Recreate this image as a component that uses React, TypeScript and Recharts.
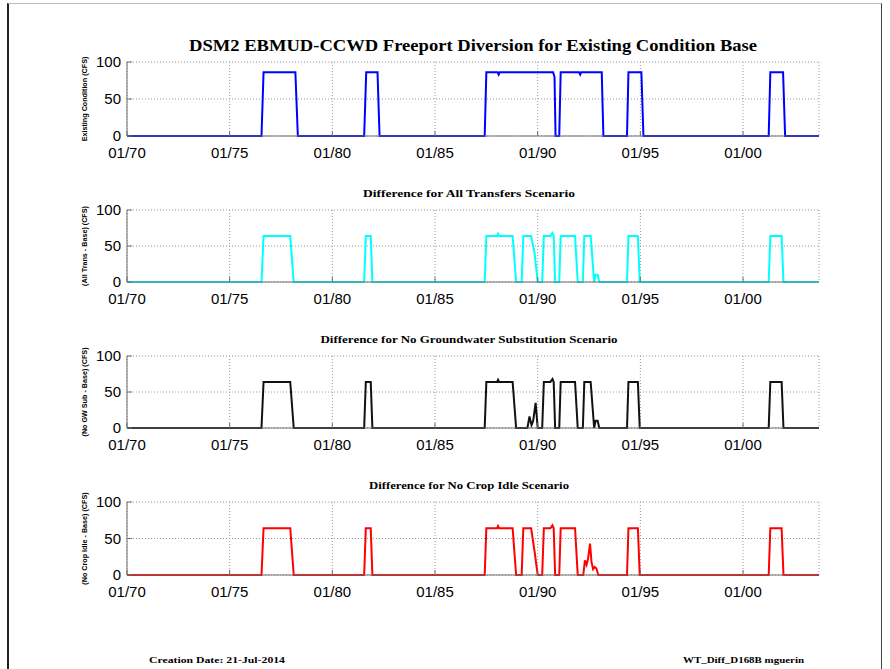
import { LineChart, Line, XAxis, YAxis, CartesianGrid } from 'recharts';

// x is decimal year, y is CFS
const YEAR_TICKS = [1970, 1975, 1980, 1985, 1990, 1995, 2000];
const VALUE_TICKS = [0, 50, 100];
const YEAR_DOMAIN: [number, number] = [1970, 2003.7];

const existingBase: [number, number][] = [
  [1970, 0], [1976.55, 0], [1976.65, 86], [1978.2, 86], [1978.32, 0],
  [1981.55, 0], [1981.65, 86], [1982.2, 86], [1982.3, 0],
  [1987.42, 0], [1987.5, 86], [1988.05, 86], [1988.1, 83], [1988.15, 86],
  [1990.75, 86], [1990.82, 80], [1990.87, 0], [1991.05, 0], [1991.12, 86],
  [1992.02, 86], [1992.07, 83], [1992.12, 86], [1993.12, 86], [1993.2, 0],
  [1994.35, 0], [1994.42, 86], [1995.05, 86], [1995.15, 0],
  [2001.25, 0], [2001.33, 86], [2001.95, 86], [2002.05, 0], [2003.7, 0],
];

const allTransfersDiff: [number, number][] = [
  [1970, 0], [1976.55, 0], [1976.65, 64], [1977.95, 64], [1978.12, 0],
  [1981.55, 0], [1981.63, 64], [1981.87, 64], [1981.95, 0],
  [1987.42, 0], [1987.5, 64], [1988.02, 64], [1988.07, 67], [1988.12, 64],
  [1988.78, 64], [1988.95, 0], [1989.22, 0], [1989.3, 64], [1989.68, 64],
  [1989.85, 40], [1990.0, 0], [1990.22, 0], [1990.3, 64], [1990.62, 64],
  [1990.72, 68], [1990.78, 64], [1990.85, 0], [1991.05, 0], [1991.12, 64],
  [1991.82, 64], [1991.95, 0], [1992.2, 0], [1992.27, 64], [1992.58, 64],
  [1992.75, 0], [1992.82, 10], [1992.92, 10], [1993.0, 0],
  [1994.35, 0], [1994.42, 64], [1994.88, 64], [1994.97, 0],
  [2001.25, 0], [2001.33, 64], [2001.88, 64], [2001.97, 0], [2003.7, 0],
];

const noGwSubDiff: [number, number][] = [
  [1970, 0], [1976.55, 0], [1976.65, 64], [1977.95, 64], [1978.12, 0],
  [1981.55, 0], [1981.63, 64], [1981.87, 64], [1981.95, 0],
  [1987.42, 0], [1987.5, 64], [1988.02, 64], [1988.07, 67], [1988.12, 64],
  [1988.78, 64], [1988.95, 0], [1989.5, 0], [1989.6, 16], [1989.7, 4],
  [1989.78, 10], [1989.9, 35], [1990.0, 0], [1990.22, 0], [1990.3, 64],
  [1990.62, 64], [1990.72, 68], [1990.78, 64], [1990.85, 0], [1991.05, 0],
  [1991.12, 64], [1991.82, 64], [1991.95, 0], [1992.2, 0], [1992.27, 64],
  [1992.58, 64], [1992.75, 0], [1992.82, 10], [1992.92, 10], [1993.0, 0],
  [1994.35, 0], [1994.42, 64], [1994.88, 64], [1994.97, 0],
  [2001.25, 0], [2001.33, 64], [2001.88, 64], [2001.97, 0], [2003.7, 0],
];

const noCropIdleDiff: [number, number][] = [
  [1970, 0], [1976.55, 0], [1976.65, 64], [1977.95, 64], [1978.12, 0],
  [1981.55, 0], [1981.63, 64], [1981.87, 64], [1981.95, 0],
  [1987.42, 0], [1987.5, 64], [1988.02, 64], [1988.07, 67], [1988.12, 64],
  [1988.78, 64], [1988.95, 0], [1989.22, 0], [1989.3, 64], [1989.68, 64],
  [1989.85, 32], [1990.0, 0], [1990.22, 0], [1990.3, 64], [1990.62, 64],
  [1990.72, 68], [1990.78, 64], [1990.85, 0], [1991.05, 0], [1991.12, 64],
  [1991.82, 64], [1991.95, 0], [1992.22, 0], [1992.3, 20], [1992.38, 14],
  [1992.45, 22], [1992.55, 43], [1992.62, 18], [1992.7, 8], [1992.78, 11],
  [1992.86, 9], [1992.95, 0],
  [1994.35, 0], [1994.42, 64], [1994.88, 64], [1994.97, 0],
  [2001.25, 0], [2001.33, 64], [2001.88, 64], [2001.97, 0], [2003.7, 0],
];

const PANELS = [
  { top: 62, h: 74, color: '#0000ff', series: existingBase, yLabel: 'Existing Condition (CFS)', title: '' },
  { top: 210, h: 72, color: '#00ffff', series: allTransfersDiff, yLabel: '(All Trans  -  Base) (CFS)', title: 'Difference for All Transfers Scenario' },
  { top: 356, h: 72, color: '#111111', series: noGwSubDiff, yLabel: '(No GW Sub  -  Base) (CFS)', title: 'Difference for No Groundwater Substitution Scenario' },
  { top: 502, h: 73, color: '#ff0000', series: noCropIdleDiff, yLabel: '(No Crop Idle  -  Base) (CFS)', title: 'Difference for No Crop Idle Scenario' },
];
const SUBTITLE_WIDTHS = [0, 212, 297, 200];

const PLOT_LEFT = 127;
const PLOT_RIGHT = 819;
const TOP_PAD = 10;
const X_AXIS_H = 30;
const BOX = '#6e6e6e';
const TICK_STYLE = { fill: '#000', fontSize: 15, fontFamily: '"Liberation Sans", Arial, sans-serif' };

const yearTick = (v: number) => `01/${String(v % 100).padStart(2, '0')}`;

function Panel({ top, h, color, series }: { top: number; h: number; color: string; series: [number, number][] }) {
  const data = series.map(([t, v]) => ({ t, v }));
  return (
    <div style={{ position: 'absolute', left: 0, top: top - TOP_PAD }}>
      <LineChart
        width={890}
        height={TOP_PAD + h + X_AXIS_H}
        data={data}
        margin={{ top: TOP_PAD, right: 890 - PLOT_RIGHT, left: 0, bottom: 0 }}
      >
        <CartesianGrid stroke="#9a9a9a" strokeDasharray="1 2" />
        {/* MATLAB-style box with ticks pointing inward */}
        <XAxis
          dataKey="t"
          type="number"
          domain={YEAR_DOMAIN}
          ticks={YEAR_TICKS}
          tickFormatter={yearTick}
          height={X_AXIS_H}
          tickSize={-5}
          tickMargin={16}
          tick={TICK_STYLE}
          tickLine={{ stroke: BOX }}
          axisLine={{ stroke: BOX }}
          allowDataOverflow
        />
        <XAxis xAxisId="top" orientation="top" dataKey="t" type="number" domain={YEAR_DOMAIN}
          ticks={YEAR_TICKS} height={0} tick={false} tickSize={-5}
          tickLine={{ stroke: BOX }} axisLine={{ stroke: BOX }} />
        <YAxis
          type="number"
          domain={[0, 100]}
          ticks={VALUE_TICKS}
          width={PLOT_LEFT}
          tickSize={-5}
          tickMargin={11}
          tick={TICK_STYLE}
          tickLine={{ stroke: BOX }}
          axisLine={{ stroke: BOX }}
        />
        <YAxis yAxisId="right" orientation="right" domain={[0, 100]} ticks={VALUE_TICKS} width={0}
          tick={false} tickSize={-5} tickLine={{ stroke: BOX }} axisLine={{ stroke: BOX }} />
        <Line
          type="linear"
          dataKey="v"
          stroke={color}
          strokeWidth={2}
          dot={false}
          isAnimationActive={false}
        />
      </LineChart>
    </div>
  );
}

export default function App() {
  const cx = (PLOT_LEFT + PLOT_RIGHT) / 2;
  return (
    <div style={{ position: 'absolute', left: 0, top: 0, width: 890, height: 669, background: '#fff', overflow: 'hidden' }}>
      <div style={{ position: 'absolute', left: 7, top: 3, width: 872, height: 680, borderLeft: '2px solid #222', borderRight: '1px solid #444', borderTop: '1px solid #bbb' }} />
      {PANELS.map((p, i) => (
        <Panel key={i} top={p.top} h={p.h} color={p.color} series={p.series} />
      ))}
      <svg width={890} height={669} style={{ position: 'absolute', left: 0, top: 0, pointerEvents: 'none' }}>
        <text x={cx} y={51} textAnchor="middle" fontFamily='"Liberation Serif", "Times New Roman", serif'
          fontWeight="bold" fontSize={17} textLength={568} lengthAdjust="spacingAndGlyphs">
          DSM2 EBMUD-CCWD Freeport Diversion for Existing Condition Base
        </text>
        {PANELS.map((p, i) => p.title && (
          <text key={`t${i}`} x={cx - 4} y={p.top - 13} textAnchor="middle"
            fontFamily='"Liberation Serif", "Times New Roman", serif' fontWeight="bold" fontSize={11}
            textLength={SUBTITLE_WIDTHS[i]} lengthAdjust="spacingAndGlyphs">
            {p.title}
          </text>
        ))}
        {PANELS.map((p, i) => (
          <text key={`y${i}`} x={0} y={0} transform={`translate(87, ${p.top + p.h / 2}) rotate(-90)`}
            textAnchor="middle" fontFamily='"Liberation Sans", Arial, sans-serif' fontWeight="bold" fontSize={7.2}>
            {p.yLabel}
          </text>
        ))}
        <text x={149} y={663} fontFamily='"Liberation Serif", "Times New Roman", serif' fontWeight="bold"
          fontSize={9} textLength={136} lengthAdjust="spacingAndGlyphs">
          Creation Date:  21-Jul-2014
        </text>
        <text x={683} y={663} fontFamily='"Liberation Serif", "Times New Roman", serif' fontWeight="bold"
          fontSize={9} textLength={121} lengthAdjust="spacingAndGlyphs">
          WT_Diff_D168B mguerin
        </text>
      </svg>
    </div>
  );
}
